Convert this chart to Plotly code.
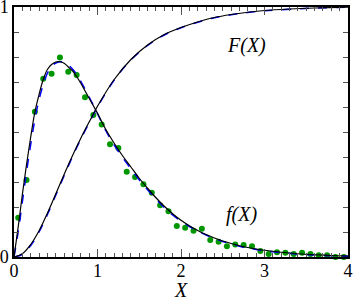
import plotly.graph_objects as go

# f(X) black solid
xf = [0, 0.05, 0.1, 0.15, 0.2, 0.25, 0.3, 0.35, 0.4, 0.45, 0.5, 0.55, 0.6, 0.65, 0.7, 0.75, 0.8, 0.85, 0.9, 0.95, 1.0,
      1.1, 1.2, 1.3, 1.4, 1.5, 1.6, 1.7, 1.8, 1.9, 2.0, 2.1, 2.2, 2.3, 2.4, 2.5, 2.6, 2.7, 2.8, 2.9, 3.0, 3.2, 3.4, 3.6, 3.8, 4.0]
f_black = [0, 0.12, 0.25, 0.37, 0.48, 0.58, 0.65, 0.71, 0.75, 0.77, 0.78, 0.781, 0.775, 0.76, 0.745, 0.722, 0.695, 0.665, 0.635, 0.605, 0.575,
           0.51, 0.455, 0.405, 0.36, 0.315, 0.275, 0.237, 0.203, 0.173, 0.147, 0.125, 0.106, 0.09, 0.076, 0.064, 0.054, 0.045, 0.038, 0.032, 0.027, 0.019, 0.013, 0.009, 0.006, 0.004]
f_blue = [0, 0.10, 0.22, 0.34, 0.45, 0.55, 0.63, 0.69, 0.735, 0.762, 0.776, 0.781, 0.779, 0.768, 0.752, 0.731, 0.703, 0.672, 0.64, 0.607, 0.573,
          0.505, 0.448, 0.398, 0.353, 0.309, 0.269, 0.231, 0.198, 0.168, 0.143, 0.122, 0.104, 0.088, 0.074, 0.062, 0.052, 0.043, 0.036, 0.030, 0.025, 0.017, 0.012, 0.008, 0.005, 0.003]

# F(X) cumulative
xF = [0, 0.1, 0.2, 0.3, 0.4, 0.5, 0.6, 0.7, 0.8, 0.9, 1.0, 1.2, 1.4, 1.6, 1.8, 2.0, 2.2, 2.4, 2.6, 2.8, 3.0, 3.3, 3.6, 4.0]
F_black = [0, 0.013, 0.05, 0.105, 0.175, 0.252, 0.33, 0.405, 0.475, 0.54, 0.603, 0.71, 0.79, 0.848, 0.89, 0.918, 0.94, 0.958, 0.97, 0.979, 0.986, 0.992, 0.996, 0.999]
F_blue = [0, 0.011, 0.046, 0.1, 0.17, 0.247, 0.325, 0.401, 0.472, 0.537, 0.6, 0.708, 0.788, 0.846, 0.888, 0.917, 0.939, 0.957, 0.969, 0.978, 0.985, 0.991, 0.996, 0.999]

# histogram points (bin centres)
xd = [0.05, 0.15, 0.25, 0.35, 0.45, 0.55, 0.65, 0.75, 0.85, 0.95, 1.05, 1.15, 1.25, 1.35, 1.45, 1.55, 1.65, 1.75, 1.85, 1.95,
      2.05, 2.15, 2.25, 2.35, 2.45, 2.55, 2.65, 2.75, 2.85, 2.95, 3.05, 3.15, 3.25, 3.35, 3.45, 3.55, 3.65, 3.75, 3.85, 3.95]
yd = [0.157, 0.308, 0.581, 0.713, 0.733, 0.798, 0.741, 0.728, 0.639, 0.568, 0.53, 0.451, 0.436, 0.341, 0.32, 0.291, 0.257, 0.207, 0.183, 0.124,
      0.117, 0.105, 0.113, 0.068, 0.061, 0.043, 0.05, 0.048, 0.043, 0.024, 0.012, 0.019, 0.017, 0.012, 0.017, 0.012, 0.007, 0.007, 0.0, 0.0]

x_ticks = [0, 1, 2, 3, 4]
y_ticks = [0, 1]

SERIF = "Liberation Serif, Times New Roman, serif"

fig = go.Figure()
fig.add_trace(go.Scatter(x=xd, y=yd, mode="markers", cliponaxis=False,
                         marker=dict(color="rgb(0,150,0)", size=6), showlegend=False))
fig.add_trace(go.Scatter(x=xF, y=F_blue, mode="lines", line=dict(color="blue", width=1.5, dash="dash", shape="spline"), showlegend=False))
fig.add_trace(go.Scatter(x=xf, y=f_blue, mode="lines", line=dict(color="blue", width=1.5, dash="dash", shape="spline"), showlegend=False))
fig.add_trace(go.Scatter(x=xF, y=F_black, mode="lines", line=dict(color="black", width=1.2, shape="spline"), showlegend=False))
fig.add_trace(go.Scatter(x=xf, y=f_black, mode="lines", line=dict(color="black", width=1.2, shape="spline"), showlegend=False))

fig.update_layout(
    width=354, height=300,
    margin=dict(l=14, r=6, t=7, b=43, pad=0, autoexpand=False),
    paper_bgcolor="white", plot_bgcolor="white",
    font=dict(family=SERIF, size=18, color="black"),
    xaxis=dict(range=[0, 4], tickmode="array", tickvals=x_ticks, ticktext=[str(v) for v in x_ticks],
               automargin=False, ticklabeloverflow="allow", ticklabelstandoff=-3,
               ticks="inside", ticklen=8, tickwidth=1, tickcolor="#555",
               tickfont=dict(family=SERIF, size=18, color="black"),
               minor=dict(dtick=0.1, ticks="inside", ticklen=4, tickwidth=1, tickcolor="#555"),
               showline=True, linecolor="black", linewidth=1.5, mirror="allticks",
               showgrid=False, zeroline=False),
    yaxis=dict(range=[0, 1], tickmode="array", tickvals=y_ticks, ticktext=[str(v) for v in y_ticks],
               automargin=False, ticklabeloverflow="allow",
               ticks="inside", ticklen=5, tickwidth=1, tickcolor="#555",
               tickfont=dict(family=SERIF, size=18, color="black"),
               minor=dict(dtick=0.1, ticks="inside", ticklen=5, tickwidth=1, tickcolor="#555"),
               showline=True, linecolor="black", linewidth=1.5, mirror="allticks",
               showgrid=False, zeroline=False),
    annotations=[
        dict(x=2.78, y=0.845, xref="x", yref="y", text="<i>F(X)</i>", showarrow=False,
             font=dict(family=SERIF, size=20, color="black")),
        dict(x=2.73, y=0.172, xref="x", yref="y", text="<i>f(X)</i>", showarrow=False,
             font=dict(family=SERIF, size=20, color="black")),
        dict(x=2.0, y=-0.172, xref="x", yref="paper", yanchor="bottom", yshift=-3, text="<i>X</i>", showarrow=False,
             font=dict(family=SERIF, size=20, color="black")),
    ],
)

fig.write_html("out.html", config={"displayModeBar": False},
               post_script="document.body.style.margin='0';document.body.style.overflow='hidden';")
